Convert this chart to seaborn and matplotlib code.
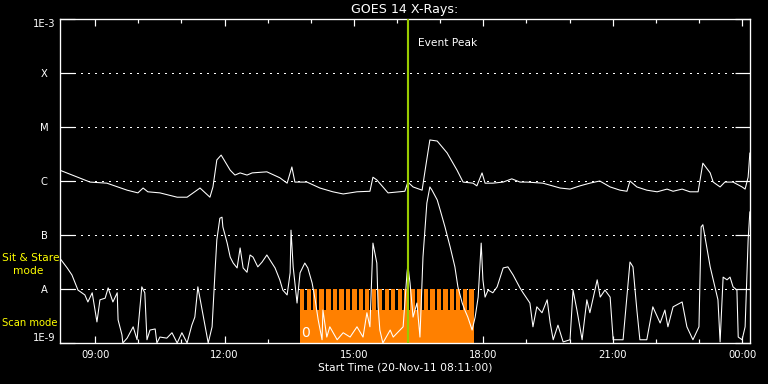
import numpy as np
import pandas as pd
import matplotlib
matplotlib.use("Agg")
import matplotlib.pyplot as plt
from matplotlib.ticker import FixedLocator, MultipleLocator, NullLocator
import seaborn as sns

# ---------------- data (hours of day, log10 flux W/m^2) ----------------
long_hours = [8.18, 8.53, 8.88, 9.27, 9.74, 9.99, 10.11, 10.22, 10.50, 10.90, 11.13,
              11.43, 11.66, 11.73, 11.82, 11.92, 12.13, 12.24, 12.36, 12.52, 12.64,
              12.98, 13.28, 13.45, 13.56, 13.63, 13.91, 14.21, 14.51, 14.75, 15.07,
              15.37, 15.44, 15.53, 15.79, 16.18, 16.25, 16.37, 16.58, 16.65, 16.76,
              16.93, 17.16, 17.39, 17.53, 17.76, 17.85, 17.97, 18.04, 18.22, 18.46,
              18.66, 18.85, 19.01, 19.38, 19.78, 20.01, 20.24, 20.47, 20.70, 20.94,
              21.17, 21.33, 21.40, 21.56, 21.79, 22.03, 22.26, 22.40, 22.61, 22.79,
              22.98, 23.09, 23.26, 23.33, 23.49, 23.60, 23.79, 24.00, 24.07, 24.14, 24.18]
long_log10 = [-5.80, -5.91, -6.02, -6.04, -6.17, -6.22, -6.13, -6.20, -6.22, -6.30, -6.30,
              -6.13, -6.30, -6.11, -5.61, -5.52, -5.80, -5.89, -5.85, -5.89, -5.85,
              -5.83, -5.94, -6.04, -5.74, -6.02, -6.02, -6.13, -6.20, -6.24, -6.20,
              -6.19, -5.93, -5.98, -6.22, -6.19, -6.02, -6.11, -6.17, -5.80, -5.24,
              -5.26, -5.48, -5.80, -6.02, -6.04, -6.09, -5.85, -6.04, -6.04, -6.02,
              -5.96, -6.02, -6.02, -6.04, -6.13, -6.15, -6.09, -6.04, -6.00, -6.11,
              -6.17, -6.19, -6.00, -6.11, -6.17, -6.20, -6.15, -6.19, -6.15, -6.20,
              -6.20, -5.67, -5.85, -6.02, -6.11, -6.02, -6.02, -6.11, -6.15, -5.93, -5.48]

short_hours = [8.18, 8.35, 8.46, 8.60, 8.76, 8.83, 8.93, 9.04, 9.11, 9.23, 9.30, 9.41,
               9.51, 9.53, 9.62, 9.64, 9.74, 9.88, 9.97, 10.08, 10.15, 10.20, 10.27,
               10.39, 10.43, 10.50, 10.66, 10.78, 10.90, 11.01, 11.13, 11.24, 11.31,
               11.38, 11.48, 11.55, 11.62, 11.71, 11.78, 11.82, 11.89, 11.94, 11.96,
               12.06, 12.13, 12.20, 12.29, 12.36, 12.43, 12.52, 12.59, 12.66, 12.77,
               12.87, 12.98, 13.05, 13.17, 13.28, 13.35, 13.45, 13.52, 13.54, 13.59,
               13.68, 13.75, 13.86, 13.93, 14.03, 14.10, 14.17, 14.26, 14.28, 14.37,
               14.44, 14.61, 14.75, 14.91, 15.07, 15.21, 15.30, 15.37, 15.44, 15.53,
               15.56, 15.60, 15.67, 15.84, 15.91, 16.14, 16.23, 16.25, 16.30, 16.37,
               16.46, 16.53, 16.60, 16.69, 16.76, 16.81, 16.93, 17.00, 17.11, 17.23,
               17.34, 17.41, 17.51, 17.57, 17.64, 17.74, 17.81, 17.88, 17.95, 17.99,
               18.04, 18.11, 18.22, 18.32, 18.46, 18.57, 18.69, 18.85, 18.92, 19.08,
               19.15, 19.24, 19.36, 19.48, 19.55, 19.62, 19.73, 19.85, 20.01, 20.08,
               20.17, 20.29, 20.40, 20.47, 20.64, 20.71, 20.82, 20.94, 21.01, 21.12,
               21.24, 21.40, 21.47, 21.56, 21.63, 21.79, 21.93, 22.10, 22.21, 22.28,
               22.40, 22.61, 22.72, 22.86, 23.00, 23.05, 23.09, 23.14, 23.26, 23.37,
               23.44, 23.49, 23.56, 23.65, 23.72, 23.79, 23.88, 23.91, 24.00, 24.07,
               24.14, 24.18]
short_log10 = [-7.43, -7.61, -7.74, -8.02, -8.11, -8.24, -8.07, -8.61, -8.20, -8.17, -7.98, -8.24,
               -8.07, -8.57, -8.85, -9.00, -8.91, -8.70, -8.94, -7.96, -8.07, -8.94, -8.76,
               -8.74, -9.00, -8.89, -8.91, -8.81, -9.00, -8.81, -9.00, -8.67, -8.52,
               -7.96, -8.39, -8.70, -9.00, -8.70, -7.65, -7.09, -6.69, -6.67, -6.85,
               -7.15, -7.41, -7.52, -7.61, -7.24, -7.61, -7.69, -7.37, -7.41, -7.59,
               -7.50, -7.37, -7.46, -7.61, -7.83, -8.02, -8.11, -7.70, -6.91, -7.59,
               -8.26, -7.70, -7.52, -7.61, -7.89, -8.20, -8.57, -8.94, -8.39, -8.89,
               -8.70, -8.94, -8.81, -8.89, -8.70, -8.89, -8.44, -8.70, -7.15, -7.52,
               -8.33, -8.76, -9.00, -8.76, -8.89, -8.70, -7.70, -7.56, -7.89, -8.52,
               -8.26, -8.89, -7.41, -6.41, -6.11, -6.17, -6.35, -6.54, -6.85, -7.22,
               -7.59, -7.96, -8.26, -8.39, -8.52, -8.76, -8.52, -8.15, -7.15, -7.83,
               -8.15, -8.02, -8.07, -7.96, -7.61, -7.59, -7.74, -7.98, -8.07, -8.26,
               -8.70, -8.33, -8.44, -8.20, -8.63, -8.94, -8.67, -8.98, -8.94, -8.02,
               -8.39, -8.94, -8.20, -8.44, -7.83, -8.15, -8.02, -8.15, -8.94, -8.94,
               -8.94, -7.50, -7.59, -8.39, -8.94, -8.94, -8.33, -8.63, -8.39, -8.70,
               -8.33, -8.24, -8.70, -8.94, -8.70, -6.85, -6.81, -7.04, -7.59, -7.96,
               -8.20, -8.98, -7.78, -7.83, -7.78, -7.96, -8.02, -8.89, -8.94, -8.70,
               -7.09, -6.57]

# observing-mode timeline (hours of day)
mode_start = 13.75
mode_end = 17.78
scan_starts = [13.85, 14.00, 14.15, 14.31, 14.46, 14.61, 14.76, 14.91, 15.06, 15.21,
               15.36, 15.51, 15.66, 15.81, 15.96, 16.11, 16.26, 16.42, 16.57, 16.72,
               16.87, 17.02, 17.17, 17.32, 17.47, 17.62]
scan_ends = [13.90, 14.05, 14.20, 14.36, 14.51, 14.66, 14.81, 14.96, 15.11, 15.26,
             15.41, 15.56, 15.71, 15.86, 16.01, 16.16, 16.31, 16.47, 16.62, 16.77,
             16.92, 17.07, 17.22, 17.37, 17.52, 17.67]
stare_level = 1.0e-8
scan_level = 4.1e-9

event_peak = 16.25

ytick_vals = [1e-9, 1e-8, 1e-7, 1e-6, 1e-5, 1e-4, 1e-3]
ytick_labels = ["1E-9", "A", "B", "C", "M", "X", "1E-3"]
xtick_hours = [9, 12, 15, 18, 21, 24]
xtick_labels = ["09:00", "12:00", "15:00", "18:00", "21:00", "00:00"]
x_range = (8.1833, 24.1833)

# ---------------- style ----------------
sns.set_theme(style="dark", rc={
    "axes.facecolor": "black", "figure.facecolor": "black",
    "axes.edgecolor": "white", "text.color": "white",
    "xtick.color": "white", "ytick.color": "white",
    "axes.labelcolor": "white", "axes.grid": False,
})
plt.rcParams["font.family"] = ["DejaVu Sans"]

long_df = pd.DataFrame({"hour": long_hours, "flux": 10.0 ** np.array(long_log10)})
short_df = pd.DataFrame({"hour": short_hours, "flux": 10.0 ** np.array(short_log10)})

fig = plt.figure(figsize=(8, 4), dpi=96)
ax = fig.add_axes([60 / 768, 1 - 343 / 384, 690 / 768, 324 / 384])
ax.set_facecolor("black")
ax.set_yscale("log")
ax.set_xlim(*x_range)
ax.set_ylim(1e-9, 1e-3)

# dotted level grid
for v in ytick_vals[1:-1]:
    ax.axhline(v, color="white", lw=0.75, ls=(0, (1, 5)), zorder=1, antialiased=False)

# observing-mode fill
mt = [mode_start]
ml = [stare_level]
for s, e in zip(scan_starts, scan_ends):
    mt += [s, e]
    ml += [scan_level, stare_level]
mt.append(mode_end)
ml.append(stare_level)
ax.fill_between(mt, 1e-9, ml, step="post", color="#ff8000", lw=0, zorder=2)

sns.lineplot(data=long_df, x="hour", y="flux", ax=ax, color="white", lw=0.8,
             sort=False, estimator=None, zorder=3)
sns.lineplot(data=short_df, x="hour", y="flux", ax=ax, color="white", lw=0.8,
             sort=False, estimator=None, zorder=3)

ax.axvline(event_peak, color="#99cc00", lw=1.6, zorder=5)
ax.text(event_peak + 0.24, 10 ** -3.44, "Event Peak", color="white", fontsize=8,
        ha="left", va="center", zorder=6)
ax.text(13.87, 10 ** -8.81, "0", color="white", fontsize=10.5, ha="center",
        va="center", zorder=4)

# axes / ticks
for sp in ax.spines.values():
    sp.set_color("white")
    sp.set_linewidth(1.0)
    sp.set_visible(True)

ax.xaxis.set_major_locator(FixedLocator(xtick_hours))
ax.set_xticklabels(xtick_labels)
ax.xaxis.set_minor_locator(MultipleLocator(1))
ax.tick_params(axis="x", which="major", direction="in", length=5.5, width=0.9,
               top=True, bottom=True, labelsize=7.5, pad=5, colors="white")
ax.tick_params(axis="x", which="minor", direction="in", length=3, width=0.9,
               top=True, bottom=True, colors="white")

ax.yaxis.set_major_locator(FixedLocator(ytick_vals))
ax.yaxis.set_minor_locator(NullLocator())
ax.set_yticklabels(ytick_labels)
ax.tick_params(axis="y", which="major", direction="in", length=11, width=0.9,
               left=True, right=True, labelsize=7.5, pad=12, colors="white")
for lab in ax.get_yticklabels():
    lab.set_horizontalalignment("center")
labs = ax.get_yticklabels()
labs[0].set_verticalalignment("bottom")
labs[-1].set_verticalalignment("top")

ax.set_xlabel("Start Time (20-Nov-11 08:11:00)", fontsize=8, color="white", labelpad=2)
ax.set_ylabel("")

fig.text(405 / 768, 1 - 10 / 384, "GOES 14 X-Rays:", ha="center", va="center",
         color="white", fontsize=9.5)

yellow = "#ffff00"
fig.text(2 / 768, 1 - 258 / 384, "Sit & Stare", color=yellow, fontsize=8,
         ha="left", va="center", zorder=10)
fig.text(13 / 768, 1 - 271 / 384, "mode", color=yellow, fontsize=8,
         ha="left", va="center", zorder=10)
fig.text(2 / 768, 1 - 323.5 / 384, "Scan mode", color=yellow, fontsize=7.5,
         ha="left", va="center", zorder=10)

fig.savefig("out.png", dpi=96, facecolor="black")
